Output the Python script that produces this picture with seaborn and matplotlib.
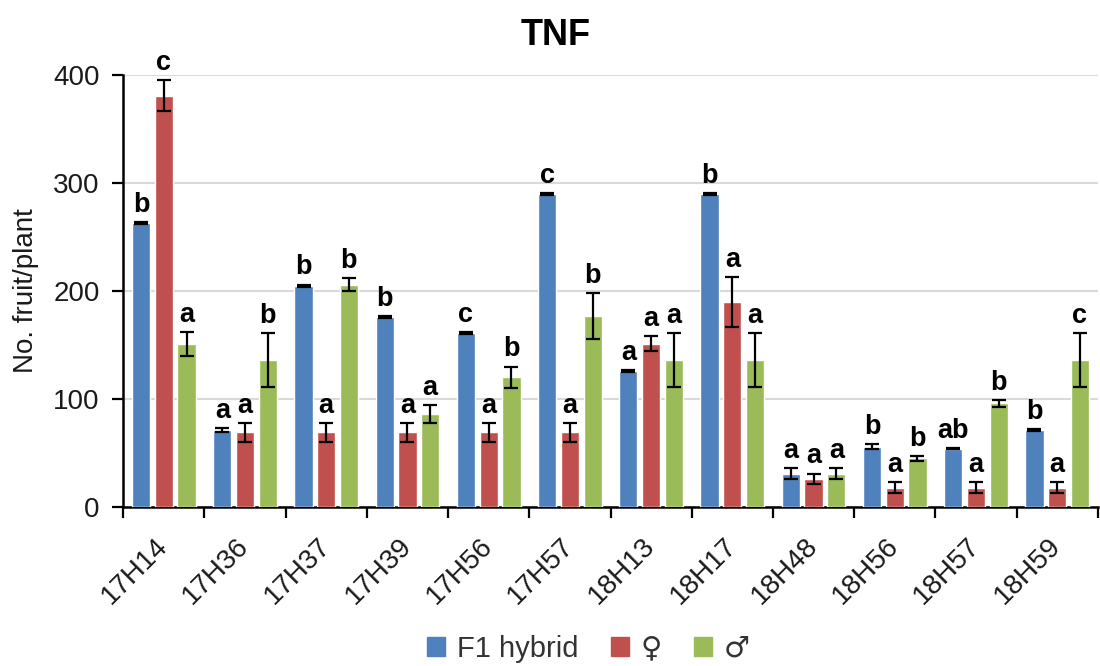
import numpy as np
import pandas as pd
import matplotlib
matplotlib.use("Agg")
import matplotlib.pyplot as plt
import seaborn as sns

# ---- data ----
lines = ["17H14", "17H36", "17H37", "17H39", "17H56", "17H57",
         "18H13", "18H17", "18H48", "18H56", "18H57", "18H59"]
groups = ["F1 hybrid", "\u2640", "\u2642"]

f1_vals = [263, 71, 205, 176, 161, 290, 126, 290, 31, 56, 54, 71]
fem_vals = [381, 69, 69, 69, 69, 69, 151, 190, 26, 18, 18, 18]
male_vals = [151, 136, 206, 86, 120, 177, 136, 136, 31, 45, 96, 136]

f1_err = [1, 2, 1, 1, 1, 1, 1, 1, 5, 2, 0.5, 1]
fem_err = [14, 9, 9, 9, 9, 9, 7, 23, 5, 5, 5, 5]
male_err = [11, 25, 6, 8, 10, 21, 25, 25, 5, 2, 3, 25]

f1_letters = ["b", "a", "b", "b", "c", "c", "a", "b", "a", "b", "ab", "b"]
fem_letters = ["c", "a", "a", "a", "a", "a", "a", "a", "a", "a", "a", "a"]
male_letters = ["a", "b", "b", "a", "b", "b", "a", "a", "a", "b", "b", "c"]

colors = ["#4F81BD", "#C0504D", "#9BBB59"]
yticks = [0, 100, 200, 300, 400]

# ---- build table ----
vals = [f1_vals, fem_vals, male_vals]
errs = [f1_err, fem_err, male_err]
lets = [f1_letters, fem_letters, male_letters]
rows = []
for g, v in zip(groups, vals):
    for ln, val in zip(lines, v):
        rows.append({"line": ln, "type": g, "value": val})
df = pd.DataFrame(rows)

sns.set_theme(style="white")
plt.rcParams["font.family"] = ["Liberation Sans", "DejaVu Sans"]

fig = plt.figure(figsize=(11, 6.66), dpi=100)
ax = fig.add_axes([0.112, 0.2387, 0.886, 0.6487])

sns.barplot(data=df, x="line", y="value", hue="type", order=lines,
            hue_order=groups, palette=colors, width=0.84, gap=0.2,
            errorbar=None, saturation=1, ax=ax, zorder=3)

for cont, e, lt in zip(ax.containers, errs, lets):
    xs = [b.get_x() + b.get_width() / 2 for b in cont]
    hs = [b.get_height() for b in cont]
    ax.errorbar(xs, hs, yerr=e, fmt="none", ecolor="black",
                elinewidth=1.6, capsize=5, capthick=1.6, zorder=4)
    for x, h, ee, l in zip(xs, hs, e, lt):
        ax.annotate(l, xy=(x, h + ee), xytext=(0, 3), textcoords="offset points",
                    ha="center", va="bottom", fontsize=19.5, fontweight="bold",
                    color="black", annotation_clip=False)

ax.set_ylim(0, 400)
ax.set_xlim(-0.5, len(lines) - 0.5)
ax.set_yticks(yticks)
ax.yaxis.grid(True, color="#D9D9D9", linewidth=1.5, zorder=0)
ax.set_axisbelow(True)
for s in ["top", "right"]:
    ax.spines[s].set_visible(False)
for s in ["left", "bottom"]:
    ax.spines[s].set_color("black")
    ax.spines[s].set_linewidth(1.8)

ax.tick_params(axis="y", which="major", left=True, length=8, width=1.6,
               color="black", labelsize=20, pad=9, labelcolor="#1a1a1a")
ax.set_xticks(range(len(lines)))
ax.set_xticklabels(lines, rotation=45, ha="right", va="center",
                   rotation_mode="anchor", fontsize=20, color="#1a1a1a")
ax.tick_params(axis="x", which="major", length=0, pad=25)
ax.set_xticks(np.arange(-0.5, len(lines)), minor=True)
ax.tick_params(axis="x", which="minor", bottom=True, length=8, width=1.6,
               color="black")

ax.set_xlabel("")
ax.set_ylabel("No. fruit/plant", fontsize=20, color="#1a1a1a", labelpad=10)
fig.text(0.505, 0.947, "TNF", fontsize=26, fontweight="bold", color="black",
         ha="center", va="center")

ax.get_legend().remove()
handles = [plt.Rectangle((0, 0), 1, 1, color=c) for c in colors]
leg = fig.legend(handles, groups, loc="center", bbox_to_anchor=(0.535, 0.026),
                 ncol=3, frameon=False, fontsize=21, handlelength=0.62,
                 handleheight=0.62, handletextpad=0.4, columnspacing=1.1,
                 labelcolor="#333333", borderpad=0.1)
for t in leg.get_texts()[1:]:
    t.set_fontfamily("DejaVu Sans")
    t.set_fontsize(21)

fig.savefig("out.png", dpi=100)
